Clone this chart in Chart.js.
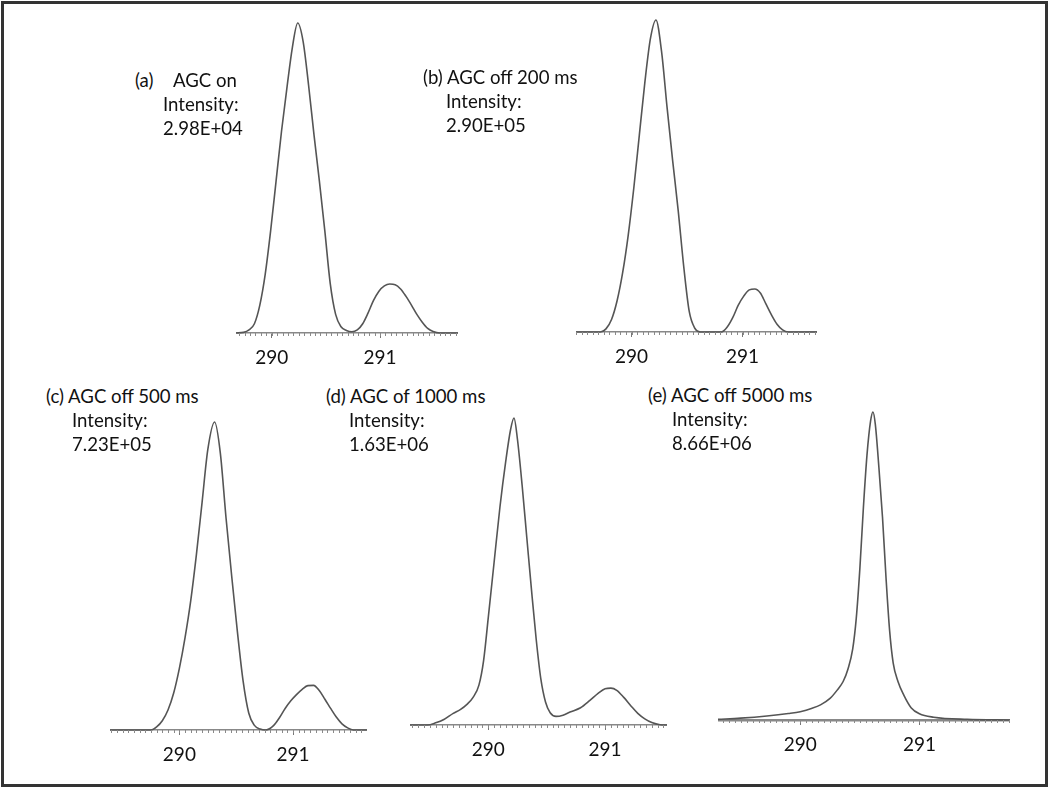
<!DOCTYPE html>
<html lang="en">
<head>
<meta charset="UTF-8">
<title>AGC peak shapes</title>
<script src="https://cdn.jsdelivr.net/npm/chart.js"></script>
<style>
  body { margin: 0; background: #fff; }
  #frame { position: absolute; left: 1px; top: 1px; width: 1041px; height: 780px; border: 3px solid #333; }
  canvas { position: absolute; }
  .lbl { position: absolute; font-family: Lato, "Open Sans", sans-serif; font-size: 18.6px; line-height: 20px; color: #111; white-space: nowrap; }
</style>
</head>
<body>
<div id="frame"></div>
<div id="root"></div>

<script>
// m/z (x) and relative intensity (%)
const mzA  = [289.67, 289.74, 289.79, 289.84, 289.89, 289.94, 289.99, 290.04, 290.09, 290.14, 290.19, 290.24, 290.29, 290.34, 290.39, 290.44, 290.49, 290.54, 290.59, 290.64, 290.69, 290.74,
              290.79, 290.84, 290.89, 290.94, 290.99, 291.04, 291.09, 291.14, 291.19, 291.24, 291.29, 291.34, 291.39, 291.44, 291.49, 291.55, 291.72];
const intA = [0, 0.2, 1, 3, 9, 19, 33, 49, 65, 79, 92, 100, 94, 80, 64, 49, 33, 16, 6, 2, 0.8, 0.4,
              1, 3, 6.5, 10.5, 13.5, 15.2, 15.8, 15.6, 14.2, 11.8, 9, 6, 3.5, 1.5, 0.5, 0, 0];

const mzB  = [289.50, 289.72, 289.77, 289.82, 289.87, 289.92, 289.97, 290.02, 290.07, 290.12, 290.17, 290.22, 290.27, 290.32, 290.37, 290.42, 290.47, 290.52, 290.57, 290.62,
              290.81, 290.86, 290.91, 290.96, 291.01, 291.06, 291.11, 291.16, 291.21, 291.26, 291.31, 291.36, 291.41, 291.67];
const intB = [0, 0, 1, 4, 10, 19, 31, 46, 63, 80, 94, 100, 90, 72, 55, 39, 21, 6.5, 1.2, 0,
              0, 1.5, 4.5, 8.5, 11.5, 13.5, 13.8, 12.5, 9, 5.5, 2.5, 0.7, 0, 0];

const mzC  = [289.39, 289.75, 289.80, 289.85, 289.90, 289.95, 290.00, 290.05, 290.10, 290.15, 290.20, 290.25, 290.31, 290.36, 290.41, 290.46, 290.51, 290.56, 290.61, 290.66, 290.71, 290.76,
              290.83, 290.88, 290.93, 290.98, 291.03, 291.08, 291.13, 291.18, 291.23, 291.28, 291.33, 291.38, 291.43, 291.48, 291.53, 291.65];
const intC = [0, 0, 1, 3, 6.5, 12, 20, 30, 42, 57, 74, 91, 100, 90, 69, 50, 32, 16, 5.5, 1.5, 0.3, 0,
              1.5, 4, 7, 9.5, 11.5, 13.2, 14.4, 14.5, 12.8, 10, 7, 4.2, 2, 0.7, 0, 0];

const mzD  = [289.33, 289.48, 289.55, 289.62, 289.70, 289.76, 289.82, 289.87, 289.92, 289.96, 290.00, 290.05, 290.10, 290.15, 290.19, 290.22, 290.25, 290.29, 290.33, 290.37, 290.41, 290.45, 290.49, 290.53,
              290.58, 290.64, 290.70, 290.79, 290.87, 290.94, 291.00, 291.05, 291.10, 291.16, 291.22, 291.28, 291.34, 291.40, 291.47, 291.53];
const intD = [0, 0, 0.7, 1.8, 3.8, 5, 6.8, 9, 13, 21, 35, 53, 71, 86, 96, 100, 93, 78, 61, 44, 28, 15, 7.5, 4,
              2.8, 3.2, 4.2, 5.6, 8, 10.3, 11.8, 12, 11.3, 9, 6.3, 3.8, 2, 0.8, 0.1, 0];

const mzE  = [289.31, 289.50, 289.72, 289.90, 290.00, 290.10, 290.17, 290.25, 290.31, 290.36, 290.40, 290.44, 290.47, 290.50, 290.53, 290.56, 290.59, 290.61,
              290.63, 290.66, 290.69, 290.72, 290.75, 290.78, 290.82, 290.87, 290.93, 291.00, 291.12, 291.40, 291.76];
const intE = [0.2, 0.6, 1.3, 2.1, 2.7, 3.8, 4.9, 7, 9.7, 12.5, 16.5, 23, 33, 49, 69, 86, 97, 100,
              96, 82, 66, 46, 29, 18.5, 12.5, 8, 4, 2, 0.9, 0.2, 0];

const tickLabels = [290, 291];

const titles = ['AGC on', '(b) AGC off 200 ms', '(c) AGC off 500 ms', '(d) AGC of 1000 ms', '(e) AGC off 5000 ms'];
const intensities = ['2.98E+04', '2.90E+05', '7.23E+05', '1.63E+06', '8.66E+06'];

// page layout: axis left/width in px, peak top and baseline in px, axis range in m/z, text anchors
const panels = [
  { mz: mzA, inten: intA, left: 236, width: 222, top: 23,  base: 333, min: 289.67, max: 291.72, tx: 135, ix: 163, ty: 80 },
  { mz: mzB, inten: intB, left: 576, width: 241, top: 20,  base: 332, min: 289.50, max: 291.67, tx: 423, ix: 446, ty: 77 },
  { mz: mzC, inten: intC, left: 110, width: 257, top: 422, base: 730, min: 289.39, max: 291.65, tx: 46,  ix: 72,  ty: 396 },
  { mz: mzD, inten: intD, left: 410, width: 257, top: 418, base: 725, min: 289.33, max: 291.53, tx: 326, ix: 349, ty: 396 },
  { mz: mzE, inten: intE, left: 718, width: 292, top: 412, base: 720, min: 289.31, max: 291.76, tx: 648, ix: 672, ty: 395 }
];

const PAD_TOP = 4, AXIS_H = 40;

const minorTicks = {
  id: 'minorTicks',
  afterDraw(chart) {
    const s = chart.scales.x, ctx = chart.ctx;
    ctx.save();
    ctx.strokeStyle = '#8a8a8a';
    ctx.lineWidth = 1;
    for (let i = Math.ceil(s.min / 0.05); i * 0.05 <= s.max + 1e-9; i++) {
      const px = Math.round(s.getPixelForValue(i * 0.05)) + 0.5;
      ctx.beginPath();
      ctx.moveTo(px, s.top);
      ctx.lineTo(px, s.top + 3);
      ctx.stroke();
    }
    ctx.restore();
  }
};

function addLabel(text, x, cy) {
  const d = document.createElement('div');
  d.className = 'lbl';
  d.textContent = text;
  d.style.left = x + 'px';
  d.style.top = (cy - 10) + 'px';
  document.getElementById('root').appendChild(d);
}

panels.forEach((p, k) => {
  const cv = document.createElement('canvas');
  cv.width = p.width;
  cv.height = PAD_TOP + (p.base - p.top) + AXIS_H;
  cv.style.left = p.left + 'px';
  cv.style.top = (p.top - PAD_TOP) + 'px';
  document.getElementById('root').appendChild(cv);

  new Chart(cv, {
    type: 'line',
    data: {
      datasets: [{
        data: p.mz.map((x, i) => ({ x: x, y: p.inten[i] })),
        borderColor: '#555',
        borderWidth: 1.6,
        pointRadius: 0,
        cubicInterpolationMode: 'monotone',
        clip: false
      }]
    },
    options: {
      responsive: false,
      animation: false,
      layout: { padding: { top: PAD_TOP, left: 0, right: 0, bottom: 0 } },
      plugins: { legend: { display: false }, tooltip: { enabled: false } },
      scales: {
        x: {
          type: 'linear',
          min: p.min,
          max: p.max,
          afterBuildTicks: s => { s.ticks = tickLabels.map(v => ({ value: v })); },
          afterFit: s => { s.height = AXIS_H; },
          border: { display: true, color: '#888', width: k === 4 ? 2.5 : 1.5 },
          grid: { display: true, drawOnChartArea: false, drawTicks: true, tickLength: 5, color: '#777' },
          ticks: { color: '#111', padding: 8, font: { family: 'Lato', size: 19 } }
        },
        y: { display: false, min: 0, max: 100 }
      }
    },
    plugins: [minorTicks]
  });

  if (k === 0) {
    addLabel('(a)', p.tx, p.ty);
    addLabel(titles[0], 173, p.ty);
  } else {
    addLabel(titles[k], p.tx, p.ty);
  }
  addLabel('Intensity:', p.ix, p.ty + 24);
  addLabel(intensities[k], p.ix, p.ty + 48);
});
</script>
</body>
</html>
